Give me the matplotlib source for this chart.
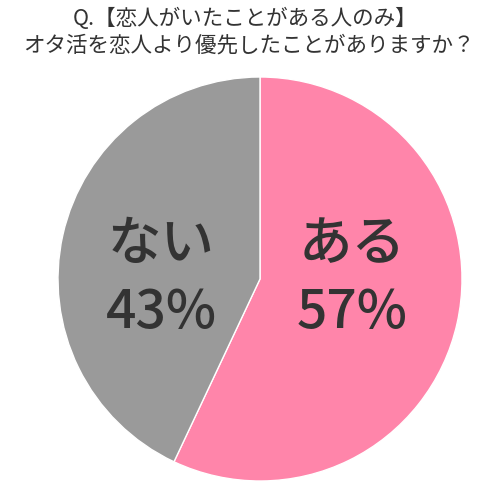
import matplotlib
matplotlib.use('Agg')
import matplotlib.pyplot as plt

plt.rcParams['font.family'] = ['Noto Sans CJK JP', 'DejaVu Sans']

labels = ['ある', 'ない']
values = [57, 43]
colors = ['#ff85aa', '#9a9a9a']
title_lines = ['Q.【恋人がいたことがある人のみ】', 'オタ活を恋人より優先したことがありますか？']

fig = plt.figure(figsize=(5.0, 4.98), dpi=100)
fig.patch.set_facecolor('white')

# pie centre ~ (260, 279) px, radius ~202 px
ax = fig.add_axes([58 / 500, 17 / 498, 404 / 500, 404 / 498])
ax.pie(values, colors=colors, startangle=90, counterclock=False,
       wedgeprops=dict(edgecolor='white', linewidth=1), radius=1)
ax.set_xlim(-1.0, 1.0)
ax.set_ylim(-1.0, 1.0)
ax.set_aspect('auto')
ax.axis('off')

# label positions (data coords)
pos = [(0.455, 0.0), (-0.49, 0.0)]
for (x, y), lab, v in zip(pos, labels, values):
    ax.text(x, y + 0.17, lab, ha='center', va='center', fontsize=38.5,
            color='#333333', fontweight='medium')
    ax.text(x, y - 0.17, f'{v}%', ha='center', va='center', fontsize=38.5,
            color='#333333', fontweight='medium')

fig.text(0.49, 1 - 19 / 498, title_lines[0], ha='center', va='center', fontsize=15.5, color='#333333')
fig.text(0.498, 1 - 46 / 498, title_lines[1], ha='center', va='center', fontsize=15.5, color='#333333')

fig.savefig('out.png', dpi=100, facecolor='white')
